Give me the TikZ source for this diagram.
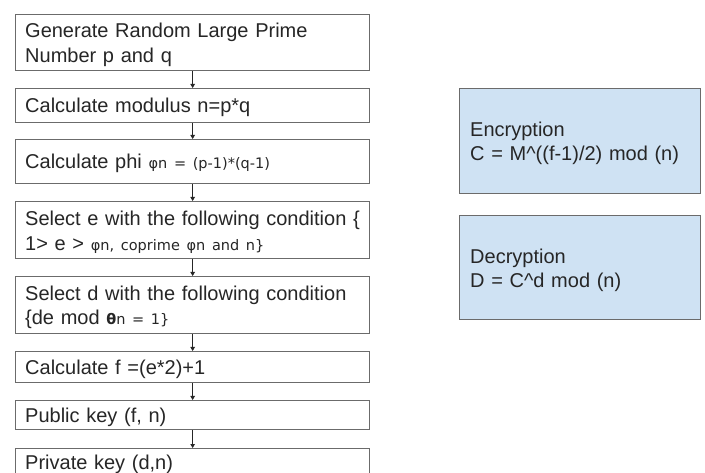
\documentclass[tikz,border=0pt]{standalone}
\usepackage{fontspec}
\setmainfont{Liberation Sans}
\newfontfamily\smallfam{DejaVu Sans}
\usetikzlibrary{arrows.meta}
\definecolor{boxline}{HTML}{6B6B6B}
\definecolor{bluefill}{HTML}{CFE2F3}
\definecolor{txt}{HTML}{262626}
\newcommand{\smtxt}[1]{{\smallfam\fontsize{14.5}{17}\selectfont #1}}
\begin{document}
\begin{tikzpicture}[x=1pt,y=-1pt,
  flowbox/.style={draw=boxline, line width=1.3pt, anchor=north west,
    minimum width=354pt, inner sep=0pt},
  flowtext/.style={anchor=west, text width=334pt, inner xsep=10pt, inner ysep=0pt,
    align=left, font=\fontsize{20}{24.5}\selectfont, text=txt, yshift=-2pt},
  opbox/.style={draw=boxline, line width=1.3pt, fill=bluefill, anchor=north west,
    minimum width=241pt, inner sep=0pt},
  optext/.style={anchor=west, text width=219pt, inner xsep=11pt, inner ysep=0pt,
    align=left, font=\fontsize{20}{24}\selectfont, text=txt, yshift=-2.5pt},
  flow/.style={draw=txt, line width=0.9pt, -{Triangle[length=4pt,width=4.5pt]}}
]
\useasboundingbox (0,0) rectangle (705,473);
\clip (0,0) rectangle (705,473);
\fill[white] (0,0) rectangle (705,473);

\node[flowbox, minimum height=56pt] (b1) at (15,14) {};
\node[flowbox, minimum height=34pt] (b2) at (15,88) {};
\node[flowbox, minimum height=44pt] (b3) at (15,139) {};
\node[flowbox, minimum height=57pt] (b4) at (15,201) {};
\node[flowbox, minimum height=57pt] (b5) at (15,276) {};
\node[flowbox, minimum height=31pt] (b6) at (15,351) {};
\node[flowbox, minimum height=29pt] (b7) at (15,400) {};
\node[flowbox, minimum height=28pt] (b8) at (15,448) {};

\node[flowtext] (t1) at (b1.west) {Generate Random Large Prime\\Number p and q};
\node[flowtext] (t2) at (b2.west) {Calculate modulus n=p*q};
\node[flowtext] (t3) at (b3.west) {Calculate phi \smtxt{φn = (p-1)*(q-1)}};
\node[flowtext] (t4) at (b4.west) {\mbox{Select e with the following condition \{}\\1> e > \smtxt{φn, coprime φn and n\}}};
\node[flowtext] (t5) at (b5.west) {Select d with the following condition\\\{de mod \smtxt{\textbf{θ}n = 1\}}};
\node[flowtext] (t6) at (b6.west) {Calculate f =(e*2)+1};
\node[flowtext] (t7) at (b7.west) {Public key (f, n)};
\node[flowtext] (t8) at (b8.west) {Private key (d,n)};

\draw[flow] (b1.south) -- (b2.north);
\draw[flow] (b2.south) -- (b3.north);
\draw[flow] (b3.south) -- (b4.north);
\draw[flow] (b4.south) -- (b5.north);
\draw[flow] (b5.south) -- (b6.north);
\draw[flow] (b6.south) -- (b7.north);
\draw[flow] (b7.south) -- (b8.north);

\node[opbox, minimum height=105pt] (enc) at (459,88) {};
\node[opbox, minimum height=104pt] (dec) at (459,215) {};
\node[optext] (tenc) at (enc.west) {Encryption\\C = M\textasciicircum((f-1)/2) mod (n)};
\node[optext] (tdec) at (dec.west) {Decryption\\D = C\textasciicircum d mod (n)};
\end{tikzpicture}
\end{document}
